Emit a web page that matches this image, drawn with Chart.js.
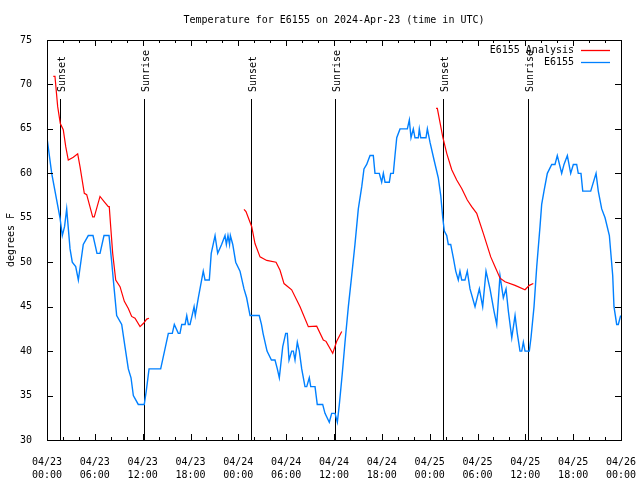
<!DOCTYPE html>
<html>
<head>
<meta charset="utf-8">
<title>Temperature for E6155</title>
<script src="https://cdn.jsdelivr.net/npm/chart.js@4"></script>
<style>
  html, body { margin: 0; padding: 0; background: #fff; }
  canvas { display: block; }
</style>
</head>
<body>
<canvas id="tempChart" width="640" height="480"></canvas>
<script>
// hours since 2024-04-23 00:00 UTC
const obsHours = [0, 0.59, 1.42, 1.63, 1.92, 2.2, 2.47, 2.89, 3.17, 3.6, 3.93, 4.55, 5.18, 5.77, 6.02, 6.27, 6.65, 7.15, 7.78, 8.12,
  8.32, 8.74, 9.37, 9.78, 10.2, 10.54, 10.83, 11.45, 12.2, 12.45, 12.8, 14.26, 15.22, 15.72, 15.97, 16.47, 16.68, 16.9, 17.32, 17.53,
  17.73, 17.94, 18.2, 18.45, 18.6, 18.98, 19.6, 19.82, 20.36, 20.6, 21.08, 21.41, 21.9, 22.33, 22.5, 22.7, 22.9, 23.0, 23.3, 23.67,
  24.21, 24.71, 25.04, 25.47, 26.62, 26.9, 27.1, 27.6, 28.15, 28.6, 28.89, 29.14, 29.57, 29.94, 30.14, 30.36, 30.69, 30.9, 31.11, 31.4,
  31.65, 31.95, 32.36, 32.58, 32.9, 33.08, 33.62, 33.9, 34.58, 34.87, 35.41, 35.71, 36.13, 36.42, 36.67, 37.04, 37.38, 37.8, 38.22, 38.63,
  39.05, 39.48, 39.76, 40.1, 40.52, 40.93, 41.14, 41.68, 41.98, 42.19, 42.4, 42.94, 43.11, 43.44, 43.65, 43.87, 44.28, 45.2, 45.45, 45.66,
  45.95, 46.16, 46.58, 46.7, 46.88, 47.54, 47.71, 48.04, 48.55, 49.08, 49.39, 49.64, 49.84, 50.14, 50.34, 50.64, 50.97, 51.27, 51.59, 51.8,
  52.02, 52.43, 52.72, 53.06, 53.69, 54.23, 54.65, 55.07, 55.57, 56.07, 56.41, 56.82, 57.24, 57.58, 57.87, 58.3, 58.71, 58.99, 59.33, 59.55,
  59.75, 59.96, 60.5, 60.71, 61.09, 61.43, 61.84, 62.05, 62.34, 62.76, 63.31, 63.72, 64.01, 64.56, 64.85, 65.27, 65.69, 66.02, 66.44, 66.64,
  66.98, 67.2, 68.2, 68.87, 69.15, 69.58, 70.0, 70.54, 70.96, 71.12, 71.46, 71.66, 71.96];
const obsTemps = [64, 60, 56, 55, 53, 54, 56, 51.5, 50, 49.5, 48, 52, 53, 53, 52, 51, 51, 53, 53, 50,
  48, 44, 43, 40.5, 38, 37, 35, 34, 34, 35.5, 38, 38, 42, 42, 43, 42, 42, 43, 43, 44,
  43, 43, 44, 45, 44, 46, 49, 48, 48, 51, 53, 51, 52, 53, 52, 53, 52, 53, 52, 50,
  49, 47, 46, 44, 44, 43, 42, 40, 39, 39, 38, 37, 40.5, 42, 42, 39, 40, 40, 39, 41,
  40, 38, 36, 36, 37, 36, 36, 34, 34, 33, 32, 33, 33, 32, 34, 37.5, 41, 45, 48.5, 52,
  56, 58.5, 60.5, 61, 62, 62, 60, 60, 59, 60, 59, 59, 60, 60, 62, 64, 65, 65, 66, 64,
  65, 64, 64, 65, 64, 64, 65, 63.5, 61.5, 59.5, 57.5, 55, 53.5, 53, 52, 52, 50.5, 49, 48, 49,
  48, 48, 49, 47, 45, 47, 45, 49, 47, 44.5, 43, 48.5, 46, 47, 44.5, 41.5, 44, 42, 40, 40,
  41, 40, 40, 41.5, 45, 49.5, 54, 56.5, 58, 60, 61, 61, 62, 60, 61, 62, 60, 61, 61, 60,
  60, 58, 58, 60, 58, 56, 55, 53, 48.5, 45, 43, 43, 44];

// analysis runs, null marks the breaks between runs
const anaHours = [0.79, 1.0, 1.34, 1.67, 2.04, 2.35, 2.67, 3.30, 3.85, 4.14, 4.68, 4.98, 5.73, 5.93, 6.65, 7.19, 7.69, 7.81, 7.99, 8.24,
  8.62, 9.16, 9.70, 10.2, 10.62, 11.04, 11.67, 12.08, 12.51, 12.79, 18,
  24.71, 24.96, 25.68, 26.09, 26.72, 27.56, 28.73, 29.23, 29.73, 30.69, 31.74, 32.78, 33.83, 34.66, 35.0, 35.84, 36.34, 36.97, 42,
  48.8, 48.96, 49.64, 50.14, 50.77, 51.39, 52.02, 52.72, 53.27, 53.9, 54.73, 55.66, 56.2, 56.83, 57.45, 58.71, 59.96, 60.5, 61.0];
const anaTemps = [70.9, 70.9, 67.5, 65.6, 64.9, 63, 61.5, 61.8, 62.2, 60.75, 57.75, 57.6, 55.1, 55.1, 57.4, 56.8, 56.25, 56.25, 54, 51,
  48, 47.25, 45.6, 44.8, 43.9, 43.7, 42.75, 43.1, 43.6, 43.7, null,
  55.95, 55.7, 54, 52.1, 50.6, 50.2, 50, 49.1, 47.6, 46.9, 45, 42.75, 42.8, 41.25, 41.1, 39.75, 41.1, 42.2, null,
  67.3, 67.3, 64.1, 62.25, 60.4, 59.25, 58.3, 57, 56.25, 55.5, 53.25, 50.6, 49.5, 48.2, 47.8, 47.4, 46.9, 47.4, 47.6];

const sunHours = [1.67, 12.2, 25.59, 36.15, 49.71, 60.3];
const sunLabels = ['Sunset', 'Sunrise', 'Sunset', 'Sunrise', 'Sunset', 'Sunrise'];

const xTickLabels = [['04/23', '00:00'], ['04/23', '06:00'], ['04/23', '12:00'], ['04/23', '18:00'],
  ['04/24', '00:00'], ['04/24', '06:00'], ['04/24', '12:00'], ['04/24', '18:00'],
  ['04/25', '00:00'], ['04/25', '06:00'], ['04/25', '12:00'], ['04/25', '18:00'], ['04/26', '00:00']];
const yTicks = [30, 35, 40, 45, 50, 55, 60, 65, 70, 75];

const seriesNames = ['E6155 Analysis', 'E6155'];
const seriesColors = ['#ff0000', '#0080ff'];

const FONT = '10px "DejaVu Sans Mono", monospace';

Chart.defaults.font.family = '"DejaVu Sans Mono", monospace';
Chart.defaults.font.size = 10;
Chart.defaults.color = '#000';

const gnuplotLook = {
    id: 'gnuplotLook',
    beforeDraw(chart) {
        const c = chart.ctx;
        c.save();
        c.fillStyle = '#fff';
        c.fillRect(0, 0, chart.width, chart.height);
        c.restore();
    },
    beforeDatasetsDraw(chart) {
        const c = chart.ctx;
        const a = chart.chartArea;
        const xs = chart.scales.x;
        c.save();
        c.strokeStyle = '#000';
        c.lineWidth = 1;
        c.fillStyle = '#000';
        c.font = FONT;
        sunHours.forEach((h, i) => {
            const px = Math.round(xs.getPixelForValue(h)) + 0.5;
            c.beginPath();
            c.moveTo(px, a.top + 59);
            c.lineTo(px, a.bottom);
            c.stroke();
            c.save();
            c.translate(px + 2, a.top + 52);
            c.rotate(-Math.PI / 2);
            c.textAlign = 'left';
            c.textBaseline = 'middle';
            c.fillText(sunLabels[i], 0, 0);
            c.restore();
        });
        c.restore();
    },
    afterDraw(chart) {
        const c = chart.ctx;
        const a = chart.chartArea;
        const xs = chart.scales.x;
        const ys = chart.scales.y;
        c.save();
        c.strokeStyle = '#000';
        c.lineWidth = 1;
        c.strokeRect(a.left + 0.5, a.top + 0.5, a.right - a.left, a.bottom - a.top);

        c.beginPath();
        for (let h = 0; h <= 72; h += 2) {
            const px = Math.round(xs.getPixelForValue(h)) + 0.5;
            const len = h % 6 === 0 ? 6 : 3;
            c.moveTo(px, a.bottom);
            c.lineTo(px, a.bottom - len);
            c.moveTo(px, a.top);
            c.lineTo(px, a.top + len);
        }
        yTicks.forEach(v => {
            const py = Math.round(ys.getPixelForValue(v)) + 0.5;
            c.moveTo(a.left, py);
            c.lineTo(a.left + 6, py);
            c.moveTo(a.right, py);
            c.lineTo(a.right - 6, py);
        });
        c.stroke();

        c.fillStyle = '#000';
        c.font = FONT;
        c.textAlign = 'center';
        c.textBaseline = 'middle';
        c.fillText('Temperature for E6155 on 2024-Apr-23 (time in UTC)', (a.left + a.right) / 2, 20);

        c.save();
        c.translate(11, (a.top + a.bottom) / 2);
        c.rotate(-Math.PI / 2);
        c.fillText('degrees F', 0, 0);
        c.restore();

        c.textAlign = 'right';
        seriesNames.forEach((name, i) => {
            const y = 50 + i * 12;
            c.fillStyle = '#000';
            c.fillText(name, 574, y);
            c.strokeStyle = seriesColors[i];
            c.lineWidth = 1.3;
            c.beginPath();
            c.moveTo(581, y + 0.5);
            c.lineTo(610, y + 0.5);
            c.stroke();
        });
        c.restore();
    }
};

const ctx = document.getElementById('tempChart').getContext('2d');

const chart = new Chart(ctx, {
    type: 'line',
    data: {
        datasets: [{
            label: seriesNames[0],
            data: anaHours.map((h, i) => ({ x: h, y: anaTemps[i] })),
            borderColor: seriesColors[0],
            borderWidth: 1.2,
            pointRadius: 0,
            tension: 0,
            spanGaps: false
        }, {
            label: seriesNames[1],
            data: obsHours.map((h, i) => ({ x: h, y: obsTemps[i] })),
            borderColor: seriesColors[1],
            borderWidth: 1.4,
            pointRadius: 0,
            tension: 0
        }]
    },
    options: {
        responsive: false,
        animation: false,
        layout: { padding: { left: 0, right: 19, top: 40, bottom: 0 } },
        scales: {
            x: {
                type: 'linear',
                min: 0,
                max: 72,
                afterFit: s => {
                    s.height = 40;
                    s.paddingLeft = 0;
                    s.paddingRight = 0;
                },
                grid: { display: false },
                border: { display: false },
                ticks: {
                    stepSize: 6,
                    autoSkip: false,
                    maxRotation: 0,
                    padding: 8,
                    font: { lineHeight: 1.3 },
                    callback: v => xTickLabels[v / 6]
                }
            },
            y: {
                min: 30,
                max: 75,
                afterFit: s => {
                    s.width = 47;
                    s.paddingTop = 0;
                    s.paddingBottom = 0;
                },
                grid: { display: false },
                border: { display: false },
                ticks: { stepSize: 5, padding: 7 }
            }
        },
        plugins: {
            legend: { display: false },
            tooltip: { enabled: false }
        }
    },
    plugins: [gnuplotLook]
});
</script>
</body>
</html>
